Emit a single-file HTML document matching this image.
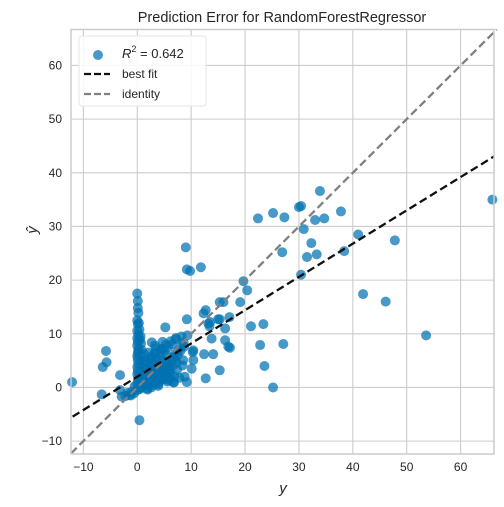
<!DOCTYPE html>
<html><head><meta charset="utf-8"><style>
html,body{margin:0;padding:0;background:#fff;}
svg{display:block;font-family:"Liberation Sans",sans-serif;}
</style></head><body>
<svg id="chart" width="504" height="507" viewBox="0 0 504 507">
<text x="282" y="22" text-anchor="middle" font-size="14.5" fill="#262626">Prediction Error for RandomForestRegressor</text>
<g id="grid"></g>
<g id="ticks"></g>
<g id="points"></g>
<g id="lines"></g>
<rect x="71" y="29.5" width="423" height="424.5" fill="none" stroke="#cccccc" stroke-width="1.5"/>
<text x="283" y="493" text-anchor="middle" font-size="15" font-style="italic" fill="#262626">y</text>
<text x="0" y="0" transform="translate(37,230) rotate(-90)" text-anchor="middle" font-size="15" font-style="italic" fill="#262626">ŷ</text>
<g>
<rect x="79" y="36" width="127" height="70" rx="3" fill="#fff" fill-opacity="0.85" stroke="#e6e6e6"/>
<circle cx="98" cy="55" r="5" fill="#0072B2" fill-opacity="0.72"/>
<text x="122" y="58" font-size="13" fill="#262626"><tspan font-style="italic">R</tspan><tspan font-size="9" dy="-6">2</tspan><tspan dy="6"> = 0.642</tspan></text>
<line x1="84" y1="74" x2="110" y2="74" stroke="#111" stroke-width="2.2" stroke-dasharray="7,3"/>
<text x="122" y="78" font-size="12" fill="#262626">best fit</text>
<line x1="84" y1="94" x2="110" y2="94" stroke="#808080" stroke-width="2.2" stroke-dasharray="7,3"/>
<text x="122" y="98" font-size="12" fill="#262626">identity</text>
</g>
</svg>
<script>
const xTicks = [-10,0,10,20,30,40,50,60];
const yTicks = [-10,0,10,20,30,40,50,60];
const xDomain = [-12.3, 66.2];
const yDomain = [-12.4, 66.7];
const fitSlope = 0.62;
const fitIntercept = 2.0;
const actualY = [65.9,33.9,30.0,30.4,22.4,25.2,27.3,37.8,33.0,34.7,30.9,41.0,47.8,32.3,26.9,31.5,33.3,38.4,30.4,19.7,20.4,41.9,46.1,53.6,19.1,15.3,16.0,12.7,12.3,11.8,9.0,9.2,9.8,21.1,23.4,17.1,15.3,13.2,16.3,13.8,16.3,16.9,17.2,22.8,27.1,23.6,25.2,15.3,12.7,12.4,14.1,10.4,10.1,-12.1,-5.8,-5.7,-6.4,-3.2,-6.6,0.4,5.2,9.2,13.5,13.4,15.0,2.7,4.7,7.2,9.3,8.7,10.3,8.5,10.4,6.7,9.2,8.8,-3.2,-2.9,-1.8,
0,0.1,0.2,0,0.1,0,0.2,0,0.1,0,0.2,0.1,0,0.1,0.2,0,0.1,0,0.2,0.1,0,0.3,0,0.1,
1,1.5,2,2.5,3,3.5,4,4.5,5,5.5,6,6.5,7,7.5,8,1.2,1.8,2.4,3.1,3.8,4.4,5.2,5.9,6.6,7.3,0.8,1.4,2.2,2.9,3.6,4.3,5.0,5.7,6.4,1.1,2.0,3.2,4.1,4.9,5.8,6.9,7.8,0.6,0.9,1.6,2.6,3.4,4.6,5.3,6.2,7.1,8.2,-1.0,-0.5,0.5,-1.5,-2.2,1.3,2.1,3.3,4.8,6.0,2.8,3.9,1.9,
0.6,0.7,0.8,0.5,0.9,1.0,0.7,0.6,1.2,0.8,1.5,1.1,1.7,1.3,2.0,2.3,2.7,1.8,2.5,3.0,3.4,2.2,3.7,4.0,4.3,4.7,5.0,3.2,3.5,2.8,4.5,5.4,5.8,6.3,6.7,7.0,7.6,8.1,8.6,5.6,6.1,4.9,3.9,2.6,1.6,0.4,0.3,0.5,1.9,2.9,3.3,4.2,5.1,6.0,7.4,8.4,6.8,-0.6,-1.2,0.2];
const predictedY = [35.0,36.6,33.6,33.8,31.5,32.5,31.7,32.8,31.2,31.5,29.5,28.5,27.4,26.9,25.2,24.3,24.8,25.4,21.0,19.8,18.1,17.4,16.0,9.7,15.9,15.9,15.9,14.4,13.8,22.4,26.1,22.0,21.7,11.4,11.8,13.1,12.7,11.9,11.0,9.1,8.8,7.6,7.4,7.9,8.1,4.0,0.0,3.2,1.7,6.2,6.2,6.9,3.5,1.0,6.8,4.7,3.8,2.3,-1.3,-6.1,11.2,12.7,12.2,11.4,12.7,8.4,8.5,9.2,9.7,7.6,6.6,5.1,5.1,1.0,1.0,2.0,-0.5,-1.7,-1.0,
17.5,16.1,13.9,12.5,11.8,10.6,9.9,9.2,8.5,7.8,7.1,6.4,5.8,5.1,4.4,3.8,3.1,2.5,1.9,1.2,0.6,0.0,-0.5,14.8,
1.5,2.0,1.8,2.8,2.4,3.5,3.0,4.2,3.8,4.9,4.4,5.6,5.2,6.0,6.8,0.5,1.0,0.9,1.5,2.0,2.2,2.9,3.5,4.0,4.6,2.5,3.1,3.9,4.6,5.4,6.0,6.8,7.5,8.0,0.3,0.4,0.9,1.2,1.5,1.4,2.1,1.8,0.0,3.0,4.2,5.3,6.4,7.2,8.0,8.6,9.0,9.5,-0.8,0.2,-0.3,-1.4,-1.6,5.0,6.5,7.8,2.6,1.7,0.8,0.6,-0.2,
9.5,8.2,7.0,5.9,4.8,3.6,2.7,1.3,6.3,0.9,5.0,3.0,4.4,2.2,3.6,2.8,4.6,1.2,5.7,3.3,4.3,0.6,2.5,3.4,5.1,4.0,3.2,6.4,7.3,1.9,7.1,6.0,3.9,4.9,5.5,6.2,6.9,7.6,8.4,1.1,2.3,1.6,0.3,0.0,0.7,10.8,12.0,8.9,-0.4,0.5,1.2,1.8,2.6,3.1,3.3,4.1,0.9,-1.1,-1.5,6.9];

const L=71,R=494,T=29.5,B=454;
function sx(v){return L+(v-xDomain[0])/(xDomain[1]-xDomain[0])*(R-L);}
function sy(v){return B-(v-yDomain[0])/(yDomain[1]-yDomain[0])*(B-T);}
const NS='http://www.w3.org/2000/svg';
function mk(tag,attrs,parent){const e=document.createElementNS(NS,tag);for(const k in attrs)e.setAttribute(k,attrs[k]);parent.appendChild(e);return e;}
const grid=document.getElementById('grid'),ticks=document.getElementById('ticks');
xTicks.forEach(v=>{
  const g=mk('line',{x1:sx(v),x2:sx(v),y1:T,y2:B,stroke:'#cccccc','stroke-width':1.1},grid);
  
  
  const t=mk('text',{x:sx(v),y:B+17,'text-anchor':'middle','font-size':12,fill:'#262626'},ticks);
  t.textContent=v<0?'\u2212'+Math.abs(v):String(v);
  
  
});
yTicks.forEach(v=>{
  const g=mk('line',{x1:L,x2:R,y1:sy(v),y2:sy(v),stroke:'#cccccc','stroke-width':1.1},grid);
  
  
  const t=mk('text',{x:L-9,y:sy(v)+4,'text-anchor':'end','font-size':12,fill:'#262626'},ticks);
  t.textContent=v<0?'\u2212'+Math.abs(v):String(v);
  
  
});
const pts=document.getElementById('points');
actualY.forEach((v,i)=>{
  const c=mk('circle',{cx:sx(v),cy:sy(predictedY[i]),r:5,fill:'#0072B2','fill-opacity':0.72},pts);
  
  
});
const lines=document.getElementById('lines');
const idl=mk('line',{x1:sx(xDomain[0]),y1:sy(xDomain[0]),x2:sx(yDomain[1]),y2:sy(yDomain[1]),stroke:'#808080','stroke-width':2.3,'stroke-dasharray':'8,4'},lines);


const x0=xDomain[0]+0.3,x1=xDomain[1];
const bf=mk('line',{x1:sx(x0),y1:sy(fitSlope*x0+fitIntercept),x2:sx(x1),y2:sy(fitSlope*x1+fitIntercept),stroke:'#111','stroke-width':2.3,'stroke-dasharray':'8,4'},lines);


</script>
</body></html>
